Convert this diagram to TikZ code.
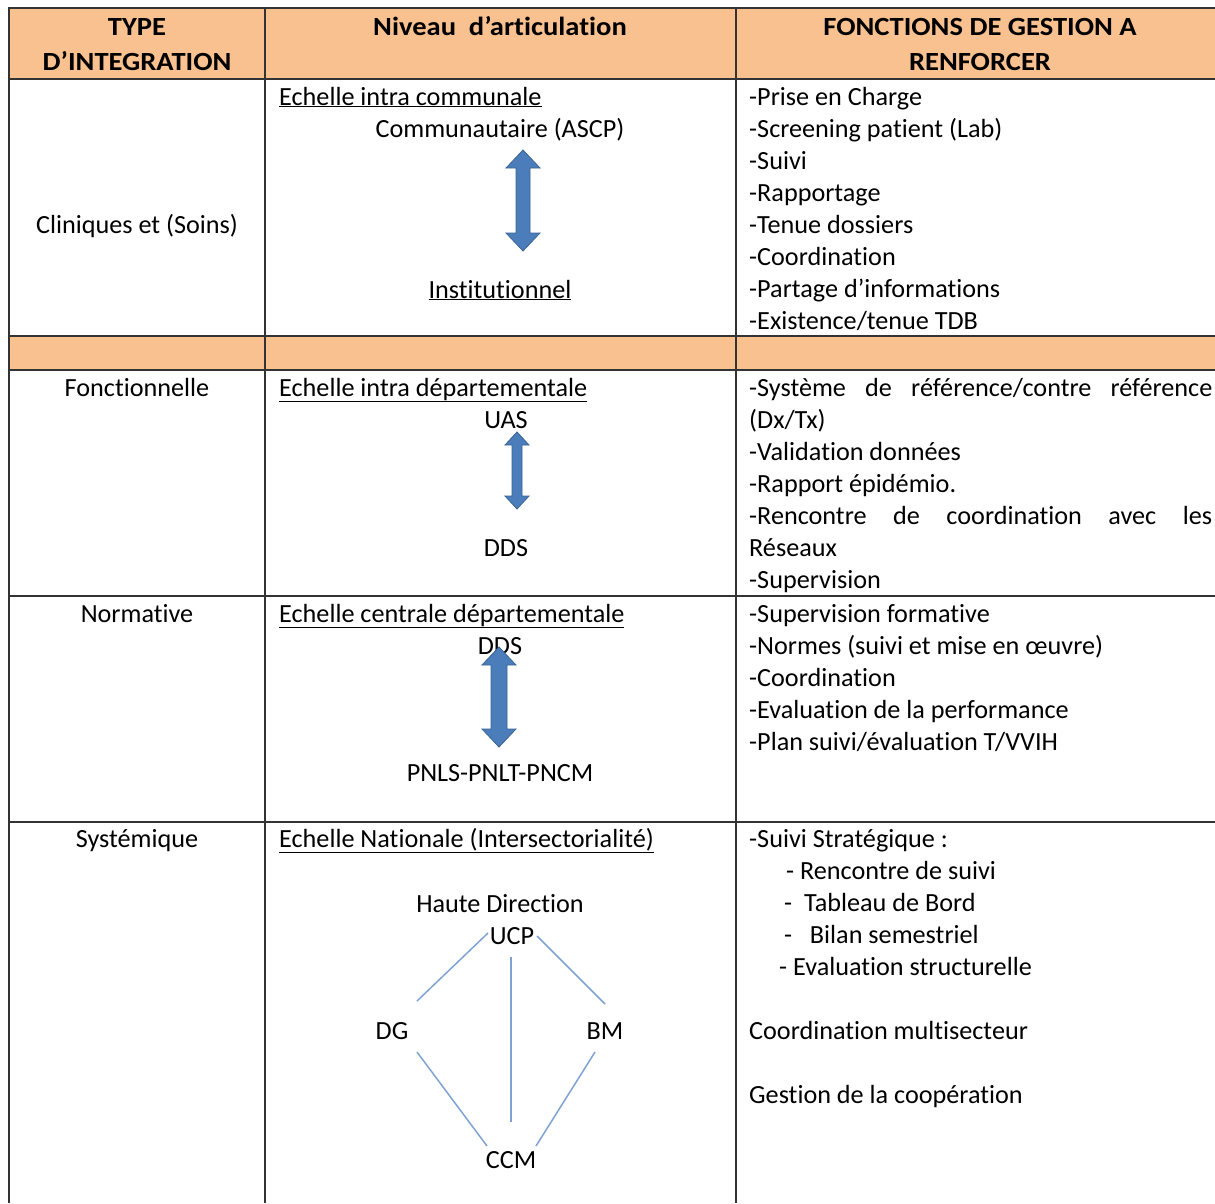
\documentclass[tikz,border=0pt]{standalone}
\usepackage{fontspec}
\setmainfont{Carlito}[Ligatures=NoCommon]
\definecolor{hdr}{HTML}{F9C18F}
\definecolor{grid}{HTML}{333333}
\definecolor{arrfill}{HTML}{4A7DBA}
\definecolor{arrdraw}{HTML}{3A6494}
\definecolor{lnk}{HTML}{7EA3D2}
\newcommand{\blockarr}[6]{% x, top, bottom, shaft half, head half, head length
  \path[fill=arrfill,draw=arrdraw,line width=0.8pt,line join=miter]
    (#1,#2) -- (#1+#5,#2+#6) -- (#1+#4,#2+#6) -- (#1+#4,#3-#6) -- (#1+#5,#3-#6)
    -- (#1,#3) -- (#1-#5,#3-#6) -- (#1-#4,#3-#6) -- (#1-#4,#2+#6) -- (#1-#5,#2+#6) -- cycle;}
\newcommand{\hdtext}[1]{\scalebox{1.09}[1]{#1}}
\begin{document}
\begin{tikzpicture}[x=1pt,y=-1pt,
  txt/.style={inner sep=0pt,font=\fontsize{26.2}{30}\selectfont},
  lt/.style={txt,anchor=base west},
  ct/.style={txt,anchor=base},
  hd/.style={txt,anchor=base,font=\fontsize{26.2}{30}\selectfont\bfseries},
  gridline/.style={draw=grid,line width=1.6pt},
  link/.style={draw=lnk,line width=1.5pt}]
\useasboundingbox (0,0) rectangle (1215,1203);
% fills
\fill[hdr] (9,8) rectangle (1215,79);
\fill[hdr] (9,336) rectangle (1215,370);
% grid
\draw[gridline] (1215,8) -- (9,8) -- (9,1203);
\draw[gridline] (265,8) -- (265,1203);
\draw[gridline] (736,8) -- (736,1203);
\foreach \yy in {79,336,370,596,822} \draw[gridline] (9,\yy) -- (1215,\yy);
% header
\node[hd] (h1a) at (137,35) {\hdtext{TYPE}};
\node[hd] (h1b) at (137,70) {\hdtext{D’INTEGRATION}};
\node[hd] (h2) at (500,35) {\hdtext{Niveau\ \ d’articulation}};
\node[hd] (h3a) at (980,35) {\hdtext{FONCTIONS DE GESTION A}};
\node[hd] (h3b) at (980,70) {\hdtext{RENFORCER}};
% column 1
\node[ct] (t1) at (137,233) {Cliniques et (Soins)};
\node[ct] (t2) at (137,396) {Fonctionnelle};
\node[ct] (t3) at (137,622) {Normative};
\node[ct] (t4) at (137,847) {Systémique};
% column 2 - row 1
\node[lt] (e1) at (279,105) {\underline{Echelle intra communale}};
\node[ct] (n1a) at (500,137) {Communautaire (ASCP)};
\node[ct] (n1b) at (500,298) {\underline{Institutionnel}};
\blockarr{523}{150}{251}{7}{17}{18}
% row 2
\node[lt] (e2) at (279,396) {\underline{Echelle intra départementale}};
\node[ct] (n2a) at (506,428) {UAS};
\node[ct] (n2b) at (506,556) {DDS};
\blockarr{517}{432}{509}{5}{12}{13}
% row 3
\node[lt] (e3) at (279,622) {\underline{Echelle centrale départementale}};
\node[ct] (n3a) at (500,654) {DDS};
\node[ct] (n3b) at (500,781) {PNLS-PNLT-PNCM};
\blockarr{499}{647}{747}{8}{17}{18}
% row 4
\node[lt] (e4) at (279,847) {\underline{Echelle Nationale (Intersectorialité)}};
\node[ct] (hdir) at (500,912) {Haute Direction};
\node[ct] (ucp) at (512,944) {UCP};
\node[ct] (dg) at (392,1039) {DG};
\node[ct] (bm) at (605,1039) {BM};
\node[ct] (ccm) at (511,1168) {CCM};
\coordinate (u1) at (488,933); \coordinate (d1) at (417,1001);
\coordinate (u2) at (511,957); \coordinate (c2) at (511,1122);
\coordinate (u3) at (537,936); \coordinate (b3) at (605,1004);
\coordinate (d4) at (417,1052); \coordinate (c4) at (487,1146);
\coordinate (b5) at (595,1052); \coordinate (c5) at (536,1146);
\draw[link] (u1) -- (d1);
\draw[link] (u2) -- (c2);
\draw[link] (u3) -- (b3);
\draw[link] (d4) -- (c4);
\draw[link] (b5) -- (c5);
% column 3 - row 1
\node[lt] (f1) at (749,105) {-Prise en Charge};
\node[lt] (f2) at (749,137) {-Screening patient (Lab)};
\node[lt] (f3) at (749,169) {-Suivi};
\node[lt] (f4) at (749,201) {-Rapportage};
\node[lt] (f5) at (749,233) {-Tenue dossiers};
\node[lt] (f6) at (749,265) {-Coordination};
\node[lt] (f7) at (749,297) {-Partage d’informations};
\node[lt] (f8) at (749,329) {-Existence/tenue TDB};
% row 2
\node[lt] (g1) at (749,396) {\makebox[463pt][l]{-Système\hfill de\hfill référence/contre\hfill référence}};
\node[lt] (g2) at (749,428) {(Dx/Tx)};
\node[lt] (g3) at (749,460) {-Validation données};
\node[lt] (g4) at (749,492) {-Rapport épidémio.};
\node[lt] (g5) at (749,524) {\makebox[463pt][l]{-Rencontre\hfill de\hfill coordination\hfill avec\hfill les}};
\node[lt] (g6) at (749,556) {Réseaux};
\node[lt] (g7) at (749,588) {-Supervision};
% row 3
\node[lt] (k1) at (749,622) {-Supervision formative};
\node[lt] (k2) at (749,654) {-Normes (suivi et mise en œuvre)};
\node[lt] (k3) at (749,686) {-Coordination};
\node[lt] (k4) at (749,718) {-Evaluation de la performance};
\node[lt] (k5) at (749,750) {-Plan suivi/évaluation T/VVIH};
% row 4
\node[lt] (m1) at (749,847) {-Suivi Stratégique :};
\node[lt] (m2) at (786,879) {- Rencontre de suivi};
\node[lt] (m3) at (784,911) {-\ \ Tableau de Bord};
\node[lt] (m4) at (784,943) {-\ \ \ Bilan semestriel};
\node[lt] (m5) at (779,975) {- Evaluation structurelle};
\node[lt] (m6) at (749,1039) {Coordination multisecteur};
\node[lt] (m7) at (749,1103) {Gestion de la coopération};
\end{tikzpicture}
\end{document}
